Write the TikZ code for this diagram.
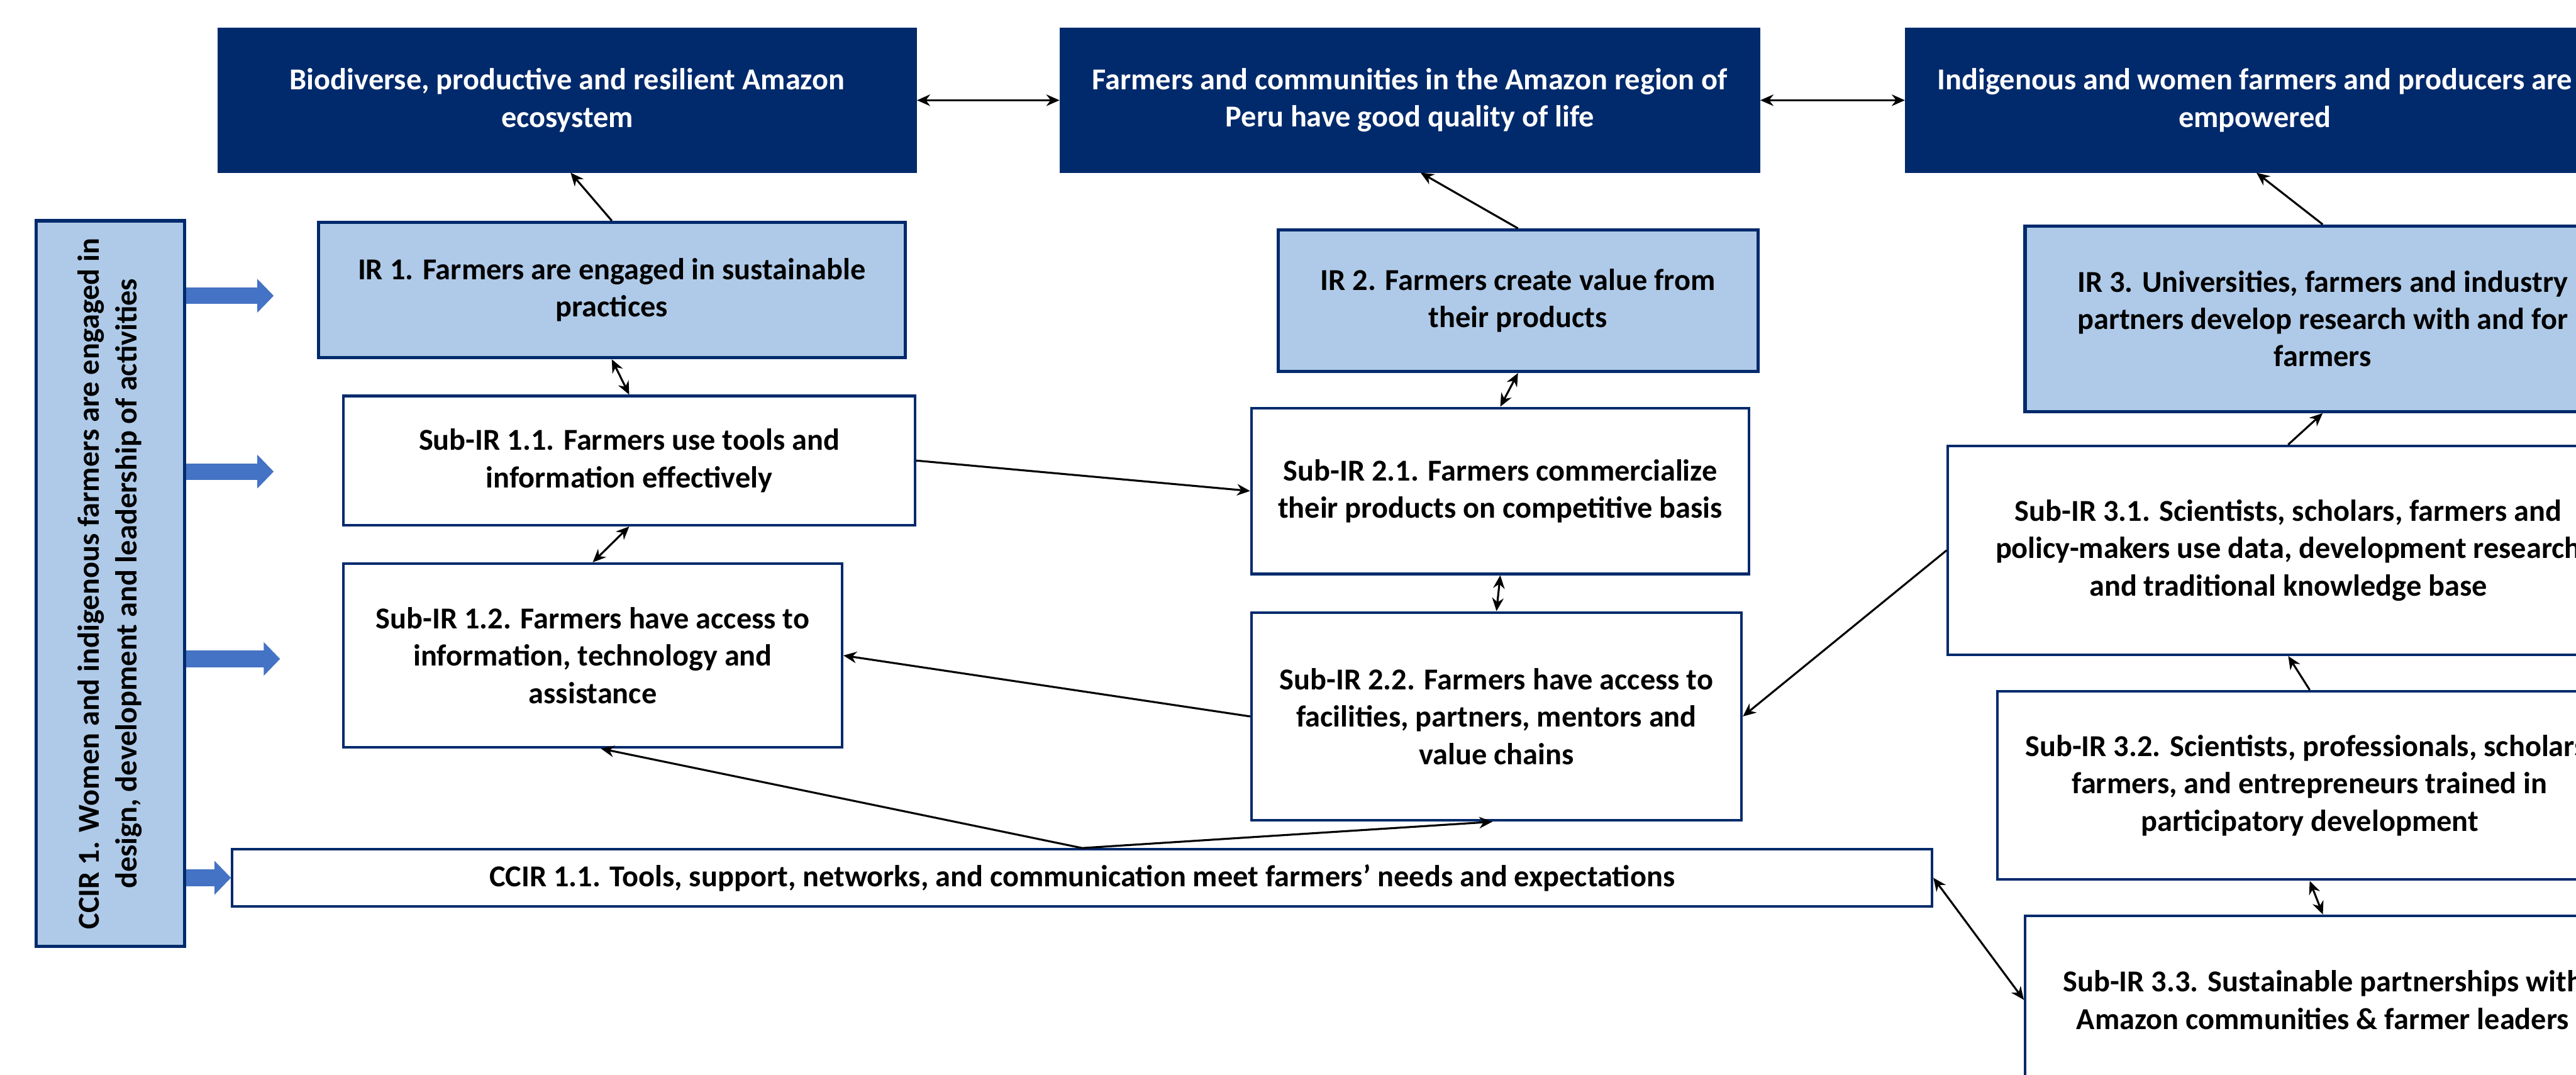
\documentclass[tikz,border=0pt]{standalone}
\usepackage{fontspec}
\setmainfont{Carlito}
\usetikzlibrary{arrows.meta,calc}
\definecolor{navy}{RGB}{0,42,108}
\definecolor{lblue}{RGB}{175,202,232}
\definecolor{arrowblue}{RGB}{68,114,196}
\begin{document}
\begin{tikzpicture}[x=1pt,y=-1pt,
  txt/.style={font=\fontsize{18.5}{22.7}\selectfont\bfseries, align=center, inner sep=0pt},
  topbox/.style={txt, fill=navy, draw=navy, line width=1pt, text=white},
  irbox/.style={txt, fill=lblue, draw=navy, line width=2pt},
  subbox/.style={txt, fill=white, draw=navy, line width=1.6pt},
  oneway/.style={line width=1.2pt, -{Stealth[length=8pt 0 0,width=7pt 0 0]}},
  twoway/.style={line width=1.2pt, {Stealth[length=8pt 0 0,width=7pt 0 0]}-{Stealth[length=8pt 0 0,width=7pt 0 0]}},
  blockarrow/.style={draw=arrowblue, line width=10pt, -{Triangle[length=10pt 0 0,width=20pt 0 0]}}
]
\useasboundingbox (0,0) rectangle (1568,654);
\fill[white] (0,0) rectangle (1568,654);
\clip (0,0) rectangle (1568,654);

% top outcomes
\node[topbox, minimum width=424.7pt, minimum height=87.2pt] (A) at (345.3,61) {Biodiverse, productive and resilient Amazon\\ecosystem};
\node[topbox, minimum width=425.6pt, minimum height=87.2pt] (B) at (858.2,61) {Farmers and communities in the Amazon region of\\Peru have good quality of life};
\node[topbox, minimum width=425pt, minimum height=87.2pt] (C) at (1372.5,61) {Indigenous and women farmers and producers are\\empowered};

% IR boxes
\node[irbox, minimum width=357.3pt, minimum height=82.3pt] (IR1) at (372.4,176.5) {IR 1. Farmers are engaged in sustainable\\practices};
\node[irbox, minimum width=292pt, minimum height=86pt] (IR2) at (924,183) {IR 2. Farmers create value from\\their products};
\node[irbox, minimum width=362.4pt, minimum height=112.9pt] (IR3) at (1413.8,194) {IR 3. Universities, farmers and industry\\partners develop research with and for\\farmers};

% Sub-IR boxes
\node[subbox, minimum width=348pt, minimum height=78.6pt] (S11) at (383,280.3) {Sub-IR 1.1. Farmers use tools and\\information effectively};
\node[subbox, minimum width=303.5pt, minimum height=111.8pt] (S12) at (360.8,398.9) {Sub-IR 1.2. Farmers have access to\\information, technology and\\assistance};
\node[subbox, minimum width=302.9pt, minimum height=101pt] (S21) at (913.2,298.8) {Sub-IR 2.1. Farmers commercialize\\their products on competitive basis};
\node[subbox, minimum width=298.3pt, minimum height=126.6pt] (S22) at (910.9,436) {Sub-IR 2.2. Farmers have access to\\facilities, partners, mentors and\\value chains};
\node[subbox, minimum width=414.2pt, minimum height=127.1pt] (S31) at (1392.8,334.9) {Sub-IR 3.1. Scientists, scholars, farmers and\\policy-makers use data, development research\\and traditional knowledge base};
\node[subbox, minimum width=380.3pt, minimum height=114.6pt] (S32) at (1405.9,478) {Sub-IR 3.2. Scientists, professionals, scholars,\\farmers, and entrepreneurs trained in\\participatory development};
\node[subbox, minimum width=362.4pt, minimum height=102.4pt] (S33) at (1413.9,608.5) {Sub-IR 3.3. Sustainable partnerships with\\Amazon communities \& farmer leaders};

% cross-cutting
\node[subbox, minimum width=1034.6pt, minimum height=34.6pt] (CC11) at (658.7,534.2) {CCIR 1.1. Tools, support, networks, and communication meet farmers’ needs and expectations};
\node[irbox, minimum width=90.3pt, minimum height=441.6pt] (CC1) at (67.25,355.2) {\rotatebox{90}{\begin{tabular}{@{}c@{}}CCIR 1. Women and indigenous farmers are engaged in\\design, development and leadership of activities\end{tabular}}};

% connectors
\draw[twoway] (A.east) -- (B.west);
\draw[twoway] (B.east) -- (C.west);
\draw[oneway] (IR1.north) -- ([xshift=2pt]A.south);
\draw[oneway] (IR2.north) -- ([xshift=6.5pt]B.south);
\draw[oneway] (IR3.north) -- ([xshift=1pt]C.south);
\draw[twoway] (IR1.south) -- (S11.north);
\draw[twoway] (S11.south) -- (S12.north);
\draw[twoway] (IR2.south) -- (S21.north);
\draw[twoway] (S21.south) -- (S22.north);
\draw[oneway] (S11.east) -- (S21.west);
\draw[oneway] (S22.west) -- (S12.east);
\draw[oneway] (CC11.north) -- ([xshift=5pt]S12.south);
\draw[oneway] (CC11.north) -- ([xshift=-2.5pt]S22.south);
\draw[oneway] (S31.north) -- (IR3.south);
\draw[oneway] (S31.west) -- (S22.east);
\draw[oneway] (S32.north) -- (S31.south);
\draw[twoway] (S32.south) -- (S33.north);
\draw[twoway] (CC11.east) -- (S33.west);

% block arrows from CCIR 1
\coordinate (b1) at (166.6,180);
\coordinate (b2) at (166.6,287);
\coordinate (b3) at (170.5,401);
\draw[blockarrow] (CC1.east |- b1) -- (b1);
\draw[blockarrow] (CC1.east |- b2) -- (b2);
\draw[blockarrow] (CC1.east |- b3) -- (b3);
\draw[blockarrow] (CC1.east |- CC11.west) -- (CC11.west);
\end{tikzpicture}
\end{document}
